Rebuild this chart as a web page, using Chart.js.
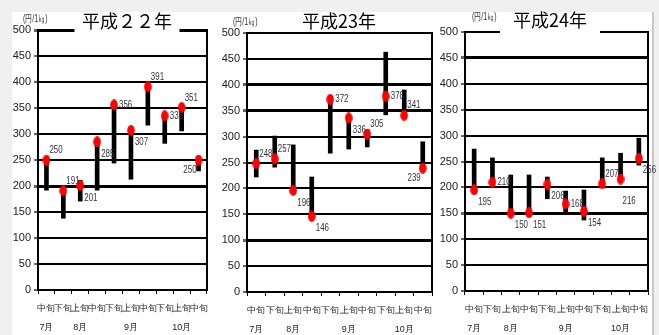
<!DOCTYPE html>
<html>
<head>
<meta charset="utf-8">
<script src="https://cdn.jsdelivr.net/npm/chart.js@4.4.0/dist/chart.umd.min.js"></script>
<style>
  body { margin: 0; background: #f0f0f0; }
  #wrap { position: relative; width: 659px; height: 335px; background: #f0f0f0; overflow: hidden; }
  #paper { position: absolute; left: 12px; top: 12px; width: 640px; height: 323px; background: #fff; border-right: 2px solid #c8c8c8; }
  canvas { position: absolute; top: 0; }
</style>
</head>
<body>
<div id="wrap">
  <div id="paper"></div>
  <canvas id="c22" width="215" height="335" style="left:0px"></canvas>
  <canvas id="c23" width="225" height="335" style="left:215px"></canvas>
  <canvas id="c24" width="219" height="335" style="left:440px"></canvas>
</div>
<script>
// 旬ごとの価格 (円/1kg)
const decades = ['中旬', '下旬', '上旬', '中旬', '下旬', '上旬', '中旬', '下旬', '上旬', '中旬'];
const months = ['7月', '', '8月', '', '', '9月', '', '', '10月', ''];
const titles = ['平成２２年', '平成23年', '平成24年'];
const unitLabel = '(円/1㎏)';

const price22 = [250, 191, 201, 285, 356, 307, 391, 335, 351, 250];
const low22   = [192, 138, 171, 192, 244, 213, 317, 282, 306, 229];
const high22  = [255, 195, 211, 290, 360, 310, 394, 340, 355, 252];

const price23 = [248, 257, 196, 146, 372, 336, 305, 378, 341, 239];
const low23   = [222, 241, 196, 146, 268, 276, 280, 342, 335, 239];
const high23  = [274, 301, 284, 222, 375, 340, 313, 463, 390, 290];

const price24 = [195, 210, 150, 151, 206, 168, 154, 207, 216, 256];
const low24   = [195, 210, 150, 151, 178, 153, 137, 207, 216, 243];
const high24  = [274, 257, 224, 224, 220, 193, 195, 257, 266, 295];

// where each value label sits next to its dot
const place22 = ['ne', 'ne', 'se', 'se', 'e', 'se', 'ne', 'e', 'ne', 'sw'];
const place23 = ['ne', 'ne', 'se', 'se', 'e', 'se', 'ne', 'e', 'ne', 'sw'];
const place24 = ['se', 'e', 'se', 'se', 'se', 'e', 'se', 'ne', 's', 'se'];

const offsets = {
    ne: { dx: 3, dy: -10, align: 'left' },
    e:  { dx: 5, dy: 0, align: 'left' },
    se: { dx: 4, dy: 12, align: 'left' },
    sw: { dx: -2, dy: 10, align: 'right' },
    s:  { dx: 2, dy: 22, align: 'left' }
};

const narrow = "'Liberation Sans Narrow', 'Liberation Sans', Arial, sans-serif";

function makeDot(){
    const c = document.createElement('canvas');
    c.width = 8; c.height = 11;
    const g = c.getContext('2d');
    g.fillStyle = '#ff0000';
    g.beginPath();
    g.ellipse(4, 5.5, 3.8, 5.4, 0, 0, Math.PI * 2);
    g.fill();
    return c;
}
const dot = makeDot();

// squeezed text, like the condensed font of the original
function squeezeText(ctx, text, x, y, sx){
    ctx.save();
    ctx.translate(x, y);
    ctx.scale(sx, 1);
    ctx.fillText(text, 0, 0);
    ctx.restore();
}

const panelDeco = {
    id: 'panelDeco',
    beforeDatasetsDraw(chart, args, opts){
        const a = chart.chartArea, ctx = chart.ctx;
        ctx.save();
        ctx.strokeStyle = '#000';
        ctx.lineWidth = 2;
        ctx.strokeRect(a.left, a.top, a.right - a.left, a.bottom - a.top);
        ctx.restore();
    },
    afterDatasetsDraw(chart, args, opts){
        const ctx = chart.ctx;
        const meta = chart.getDatasetMeta(0);
        ctx.save();
        ctx.font = '11px ' + narrow;
        ctx.fillStyle = '#333344';
        ctx.textBaseline = 'middle';
        meta.data.forEach(function(pt, i){
            const o = offsets[opts.place[i]];
            ctx.textAlign = o.align;
            squeezeText(ctx, String(opts.values[i]), pt.x + o.dx, pt.y + o.dy, 0.72);
        });
        ctx.restore();
    },
    afterDraw(chart, args, opts){
        const a = chart.chartArea, ctx = chart.ctx;
        ctx.save();
        ctx.font = '18px "Noto Sans CJK JP", sans-serif';
        const cx = opts.titleX;
        if (opts.gap > 0) {
            ctx.fillStyle = '#fff';
            ctx.fillRect(cx - opts.gap / 2, a.top - 4, opts.gap, 7);
        }
        ctx.fillStyle = '#000';
        ctx.textAlign = 'center';
        ctx.textBaseline = 'middle';
        ctx.fillText(opts.title, cx, opts.titleY);
        ctx.font = '10px ' + narrow;
        ctx.fillStyle = '#333';
        ctx.textAlign = 'left';
        squeezeText(ctx, unitLabel, opts.unitX, opts.unitY, 0.7);
        ctx.restore();
    }
};

function drawPanel(id, title, price, low, high, place, box){
    const ctx = document.getElementById(id);
    const labels = decades.map(function(d, i){ return [d, months[i]]; });
    const ranges = low.map(function(l, i){ return [l, high[i]]; });
    new Chart(ctx, {
        type: 'bar',
        data: {
            labels: labels,
            datasets: [{
                type: 'line',
                data: price,
                showLine: false,
                pointStyle: dot,
                pointRadius: 5,
                order: 0
            }, {
                type: 'bar',
                data: ranges,
                backgroundColor: '#000',
                barThickness: 4,
                order: 1
            }]
        },
        options: {
            responsive: false,
            animation: false,
            devicePixelRatio: 1,
            layout: { padding: { left: 0, top: box.top, right: box.right, bottom: 0 } },
            plugins: {
                legend: { display: false },
                tooltip: { enabled: false },
                panelDeco: {
                    title: title, values: price, place: place,
                    titleX: box.titleX, titleY: box.titleY, gap: box.gap,
                    unitX: box.unitX, unitY: box.unitY
                }
            },
            scales: {
                x: {
                    offset: true,
                    afterFit: function(scale){ scale.height = 335 - box.bottom; },
                    border: { color: '#000', width: 2 },
                    grid: { drawOnChartArea: false, drawTicks: true, tickLength: 4, color: '#000', offset: true },
                    ticks: {
                        color: '#222',
                        padding: 5,
                        maxRotation: 0,
                        autoSkip: false,
                        font: { family: narrow, size: 9, lineHeight: 2.1 }
                    }
                },
                y: {
                    min: 0,
                    max: 500,
                    afterFit: function(scale){ scale.width = box.yWidth; },
                    border: { color: '#000', width: 2 },
                    grid: {
                        color: '#000',
                        tickColor: '#666',
                        tickLength: 4,
                        lineWidth: function(c){ return box.thick.indexOf(c.tick.value) >= 0 ? 3 : 2; }
                    },
                    ticks: {
                        stepSize: 50,
                        padding: 3,
                        color: '#222',
                        font: { family: narrow, size: 11 }
                    }
                }
            }
        },
        plugins: [panelDeco]
    });
}

drawPanel('c22', titles[0], price22, low22, high22, place22,
    { top: 30, bottom: 290, right: 8, yWidth: 38, titleX: 127, titleY: 21, gap: 105, unitX: 23, unitY: 19, thick: [200, 500] });
drawPanel('c23', titles[1], price23, low23, high23, place23,
    { top: 33, bottom: 292, right: 8, yWidth: 32, titleX: 124, titleY: 21, gap: 0, unitX: 18, unitY: 22, thick: [400, 350, 100] });
drawPanel('c24', titles[2], price24, low24, high24, place24,
    { top: 32, bottom: 291, right: 11, yWidth: 25, titleX: 110, titleY: 20, gap: 100, unitX: 32, unitY: 17, thick: [450, 150] });
</script>
</body>
</html>
